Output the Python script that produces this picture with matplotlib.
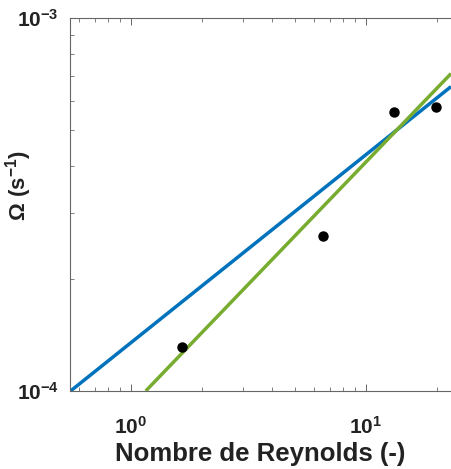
import numpy as np
import matplotlib
matplotlib.use("Agg")
import matplotlib.pyplot as plt
from matplotlib.ticker import FixedLocator, FixedFormatter, LogLocator, NullFormatter

# Data
re_points = [1.65, 6.55, 13.2, 19.8]
omega_points = [1.31e-4, 2.61e-4, 5.61e-4, 5.78e-4]

# Power-law fits Omega = a * Re^b
blue_a, blue_b = 1.348e-4, 0.504
green_a, green_b = 0.910e-4, 0.655
blue_re_range = [0.55, 23.0]
green_re_range = [1.155, 23.0]

x_ticks = [1, 10]
x_tick_labels = [r'$\mathbf{10^{0}}$', r'$\mathbf{10^{1}}$']
y_ticks = [1e-4, 1e-3]
y_tick_labels = [r'$\mathbf{10^{-4}}$', r'$\mathbf{10^{-3}}$']

plt.rcParams['font.family'] = ['Liberation Sans', 'DejaVu Sans']
plt.rcParams['mathtext.fontset'] = 'custom'
plt.rcParams['mathtext.rm'] = 'Liberation Sans:bold'
plt.rcParams['mathtext.bf'] = 'Liberation Sans:bold'
plt.rcParams['mathtext.it'] = 'Liberation Sans:bold'

fig = plt.figure(figsize=(4.51, 4.69), dpi=100)
ax = fig.add_axes([70/451, 1 - 391/469, (451-70)/451, (391-18)/469])

xb = np.logspace(np.log10(blue_re_range[0]), np.log10(blue_re_range[1]), 50)
xg = np.logspace(np.log10(green_re_range[0]), np.log10(green_re_range[1]), 50)
ax.plot(xb, blue_a * xb**blue_b, color='#0072BD', lw=2.5, solid_capstyle='butt', clip_on=True)
ax.plot(xg, green_a * xg**green_b, color='#77AC30', lw=2.5, solid_capstyle='butt', clip_on=True)
ax.plot(re_points, omega_points, 'o', color='black', ms=6.5, zorder=5)

ax.set_xscale('log')
ax.set_yscale('log')
ax.set_xlim(0.55, 23.0)
ax.set_ylim(1e-4, 1e-3)

ax.xaxis.set_major_locator(FixedLocator(x_ticks))
ax.xaxis.set_major_formatter(FixedFormatter(x_tick_labels))
ax.xaxis.set_minor_locator(LogLocator(base=10, subs=np.arange(2, 10)))
ax.xaxis.set_minor_formatter(NullFormatter())
ax.yaxis.set_major_locator(FixedLocator(y_ticks))
ax.yaxis.set_major_formatter(FixedFormatter(y_tick_labels))
ax.yaxis.set_minor_locator(LogLocator(base=10, subs=np.arange(2, 10)))
ax.yaxis.set_minor_formatter(NullFormatter())

gray = '#666666'
for s in ['left', 'bottom', 'top']:
    ax.spines[s].set_color(gray)
    ax.spines[s].set_linewidth(0.8)
ax.spines['right'].set_visible(False)
ax.tick_params(which='both', direction='in', top=True, right=False, colors=gray, labelcolor='#222222')
ax.tick_params(which='major', length=5, width=0.7, labelsize=15)
ax.tick_params(axis='y', which='major', pad=8)
ax.tick_params(axis='x', which='major', pad=18)
ax.tick_params(which='minor', length=3, width=0.6)

ax.set_xlabel('Nombre de Reynolds (-)', fontsize=18.5, fontweight='bold', color='#222222', labelpad=3)
ax.set_ylabel(r'$\Omega$ (s$^{-1}$)', fontsize=16, fontweight='bold', color='#222222')
ax.yaxis.set_label_coords(-0.095, 0.55)

fig.savefig('out.png', dpi=100)
